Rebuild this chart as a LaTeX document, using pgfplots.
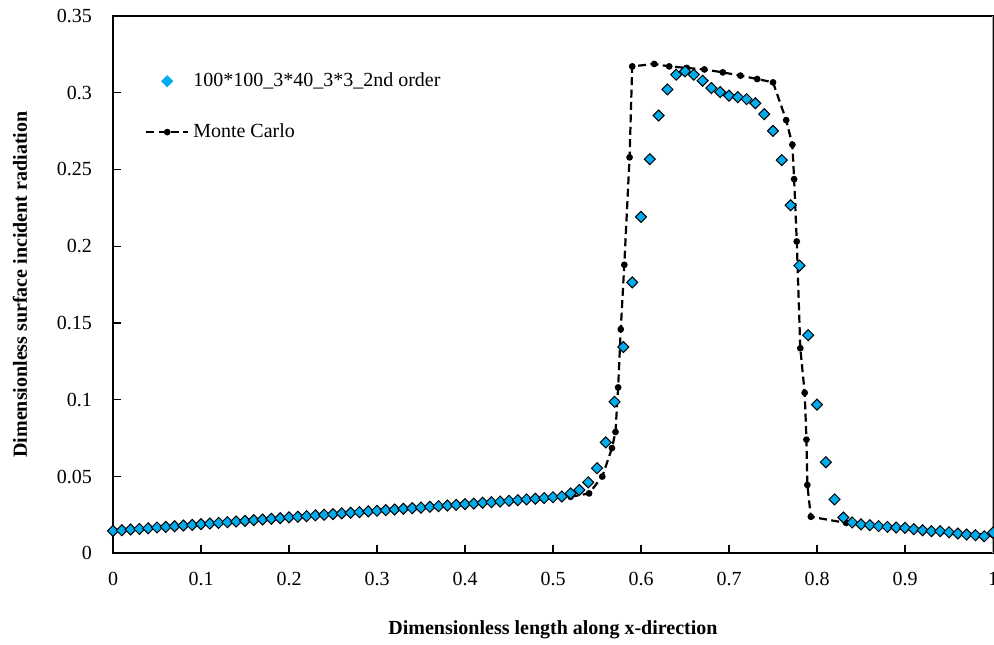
\documentclass[border=0pt]{standalone}
\usepackage{pgfplots}
\pgfplotsset{compat=1.18}
\usepackage{fontspec}
\setmainfont{Liberation Serif}
\definecolor{dblue}{RGB}{0,172,236}
\pgfplotsset{
  legdiamond/.style={legend image code/.code={\draw[mark repeat=2, mark phase=2, ##1, mark options={rotate=45, fill=dblue, draw=dblue}] plot coordinates {(0pt,0pt) (10.5pt,0pt) (21pt,0pt)};}},
  legline/.style={legend image code/.code={\draw[mark repeat=2, mark phase=2, ##1] plot coordinates {(0pt,0pt) (10.5pt,0pt) (21pt,0pt)};}},
}
\begin{document}
\begin{tikzpicture}
\begin{axis}[
  scale only axis, width=440pt, height=268.8pt,
  xmin=0, xmax=1, ymin=0, ymax=0.35,
  xtick={0,0.1,...,1.01}, ytick={0,0.05,...,0.351},
  xticklabels={0,0.1,0.2,0.3,0.4,0.5,0.6,0.7,0.8,0.9,1},
  yticklabels={0,0.05,0.1,0.15,0.2,0.25,0.3,0.35},
  xtick pos=left, ytick pos=left, tick align=inside,
  major tick length=4pt,
  tick style={black, line width=0.6pt},
  axis line style={black, line width=0.9pt},
  yticklabel style={anchor=east, xshift=-7pt},
  xticklabel style={anchor=north, yshift=-6pt},
  xlabel={\textbf{Dimensionless length along x-direction}},
  ylabel={\textbf{Dimensionless surface incident radiation}},
  xlabel style={at={(axis description cs:0.5,0)}, anchor=center, yshift=-38pt},
  ylabel style={at={(axis description cs:-0.1057,0.5)}, anchor=center},
  legend style={draw=none, fill=none, at={(rel axis cs:0.036,0.902)}, anchor=north west,
    font=\normalsize, row sep=13pt, inner sep=0pt, cells={anchor=west}},
  legend cell align=left, reverse legend,
]
\addplot[black, line width=1.1pt, dash pattern=on 4pt off 2.2pt, mark=*, mark size=1.1pt, mark options={solid}, legline]
coordinates {
(0.00,0.0145)(0.05,0.0166)(0.10,0.0188)(0.15,0.0210)(0.20,0.0232)(0.25,0.0253)(0.30,0.0275)(0.35,0.0296)(0.40,0.0318)(0.45,0.0339)
(0.50,0.0358)(0.52,0.0368)(0.541,0.0390)(0.556,0.0500)(0.567,0.0685)(0.571,0.0790)(0.574,0.1080)(0.577,0.1459)(0.581,0.1878)(0.587,0.2578)
(0.590,0.3170)(0.615,0.3186)(0.632,0.3170)(0.652,0.3160)(0.672,0.3150)(0.693,0.3131)(0.713,0.3110)(0.732,0.3088)(0.750,0.3066)(0.765,0.2820)
(0.772,0.2660)(0.774,0.2436)(0.777,0.2030)(0.781,0.1335)(0.786,0.1045)(0.788,0.0740)(0.789,0.0445)(0.793,0.0238)(0.833,0.0198)(0.85,0.0186)
(0.90,0.0163)(0.95,0.0136)(1.00,0.0120)
};
\addlegendentry{Monte Carlo}
\addplot[only marks, mark=square*, mark size=1.95pt, mark options={rotate=45, fill=dblue, draw=black, line width=0.5pt}, legdiamond]
coordinates {
(0.00,0.0146)(0.01,0.0150)(0.02,0.0155)(0.03,0.0159)(0.04,0.0163)(0.05,0.0168)(0.06,0.0172)(0.07,0.0176)(0.08,0.0181)(0.09,0.0185)
(0.10,0.0190)(0.11,0.0194)(0.12,0.0198)(0.13,0.0203)(0.14,0.0207)(0.15,0.0211)(0.16,0.0216)(0.17,0.0220)(0.18,0.0225)(0.19,0.0229)
(0.20,0.0234)(0.21,0.0238)(0.22,0.0242)(0.23,0.0247)(0.24,0.0251)(0.25,0.0255)(0.26,0.0260)(0.27,0.0264)(0.28,0.0268)(0.29,0.0273)
(0.30,0.0277)(0.31,0.0281)(0.32,0.0285)(0.33,0.0290)(0.34,0.0294)(0.35,0.0298)(0.36,0.0303)(0.37,0.0307)(0.38,0.0311)(0.39,0.0316)
(0.40,0.0320)(0.41,0.0324)(0.42,0.0329)(0.43,0.0333)(0.44,0.0337)(0.45,0.0342)(0.46,0.0346)(0.47,0.0351)(0.48,0.0355)(0.49,0.0360)
(0.50,0.0365)(0.51,0.0370)(0.52,0.0390)(0.53,0.0412)(0.54,0.0462)(0.55,0.0554)(0.56,0.0722)(0.57,0.0986)(0.58,0.1343)(0.59,0.1764)
(0.60,0.2190)(0.61,0.2566)(0.62,0.2850)(0.63,0.3020)(0.64,0.3116)(0.65,0.3138)(0.66,0.3116)(0.67,0.3077)(0.68,0.3029)(0.69,0.3003)
(0.70,0.2980)(0.71,0.2970)(0.72,0.2957)(0.73,0.2930)(0.74,0.2859)(0.75,0.2750)(0.76,0.2560)(0.77,0.2266)(0.78,0.1873)(0.79,0.1420)
(0.80,0.0968)(0.81,0.0593)(0.82,0.0351)(0.83,0.0233)(0.84,0.0201)(0.85,0.0188)(0.86,0.0183)(0.87,0.0177)(0.88,0.0172)(0.89,0.0168)
(0.90,0.0166)(0.91,0.0157)(0.92,0.0150)(0.93,0.0144)(0.94,0.0144)(0.95,0.0137)(0.96,0.0129)(0.97,0.0122)(0.98,0.0118)(0.99,0.0111)
(1.00,0.0135)
};
\addlegendentry{100*100\_3*40\_3*3\_2nd order}
\draw[gray!70, line width=0.6pt] (rel axis cs:1,0) -- (rel axis cs:1,1);
\end{axis}
\pgfresetboundingbox
\path[use as bounding box] (-56.5pt,-45.35pt) rectangle (440.5pt,276.65pt);
\end{tikzpicture}
\end{document}
